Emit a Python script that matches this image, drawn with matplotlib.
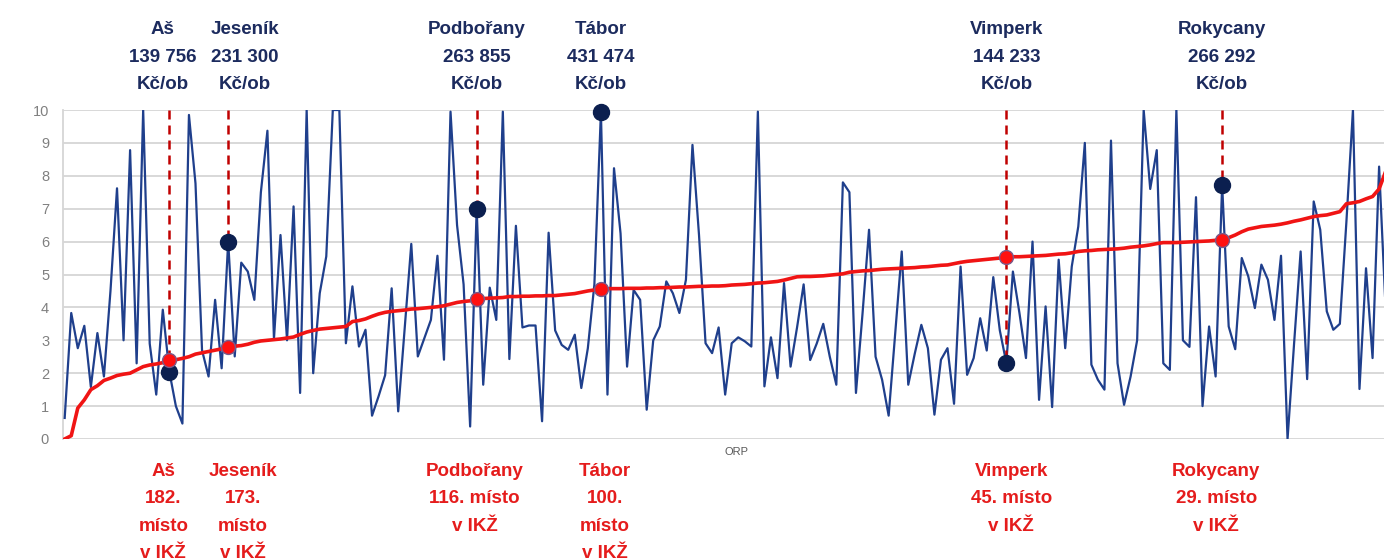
import numpy as np
import matplotlib
matplotlib.use("Agg")
import matplotlib.pyplot as plt

# Blue series: value per ORP (ordered along the x axis)
blue = [0.64, 3.83, 2.76, 3.44, 1.58, 3.22, 1.90, 4.50, 7.62, 3.00,
        8.78, 2.30, 10.0, 2.90, 1.35, 3.93, 2.05, 1.00, 0.47, 9.85,
        7.77, 2.70, 1.90, 4.23, 2.15, 6.00, 2.51, 5.36, 5.09, 4.23,
        7.50, 9.37, 3.04, 6.20, 3.00, 7.07, 1.40, 10.0, 2.00, 4.43,
        5.55, 10.0, 10.0, 2.91, 4.64, 2.81, 3.32, 0.71, 1.30, 1.94,
        4.58, 0.84, 3.40, 5.93, 2.51, 3.07, 3.62, 5.57, 2.41, 9.95,
        6.50, 4.70, 0.38, 7.00, 1.65, 4.60, 3.62, 9.95, 2.43, 6.48,
        3.39, 3.45, 3.45, 0.54, 6.27, 3.30, 2.86, 2.71, 3.17, 1.55,
        2.76, 4.70, 9.95, 1.35, 8.23, 6.25, 2.20, 4.53, 4.23, 0.89,
        3.00, 3.42, 4.79, 4.43, 3.83, 4.84, 8.94, 6.20, 2.91, 2.61,
        3.39, 1.35, 2.91, 3.09, 2.97, 2.81, 9.95, 1.60, 3.09, 1.85,
        4.74, 2.20, 3.40, 4.70, 2.40, 2.90, 3.50, 2.50, 1.65, 7.80,
        7.50, 1.40, 3.80, 6.36, 2.50, 1.80, 0.71, 3.20, 5.70, 1.65,
        2.60, 3.47, 2.76, 0.74, 2.41, 2.76, 1.07, 5.24, 1.95, 2.46,
        3.67, 2.69, 4.92, 3.30, 2.31, 5.09, 3.83, 2.46, 6.00, 1.19,
        4.03, 0.97, 5.45, 2.76, 5.24, 6.46, 9.00, 2.26, 1.80, 1.50,
        9.07, 2.30, 1.04, 1.90, 3.00, 10.0, 7.60, 8.78, 2.30, 2.10,
        10.0, 3.00, 2.80, 7.35, 1.00, 3.42, 1.90, 7.72, 3.42, 2.73,
        5.50, 4.94, 3.98, 5.30, 4.84, 3.62, 5.57, 0.00, 2.90, 5.70,
        1.82, 7.22, 6.36, 3.88, 3.32, 3.50, 6.60, 10.0, 1.52, 5.19,
        2.46, 8.28, 3.93]

# Red series: sorted IKZ values
red = [0.00, 0.10, 0.94, 1.19, 1.50, 1.62, 1.78, 1.85, 1.93, 1.97,
       2.00, 2.10, 2.20, 2.25, 2.28, 2.32, 2.40, 2.41, 2.45, 2.50,
       2.58, 2.62, 2.66, 2.70, 2.74, 2.80, 2.82, 2.84, 2.88, 2.94,
       2.98, 3.00, 3.02, 3.04, 3.07, 3.10, 3.18, 3.25, 3.30, 3.34,
       3.36, 3.38, 3.40, 3.42, 3.57, 3.60, 3.65, 3.73, 3.80, 3.85,
       3.88, 3.90, 3.92, 3.95, 3.96, 3.98, 4.00, 4.02, 4.05, 4.10,
       4.15, 4.18, 4.20, 4.26, 4.27, 4.28, 4.29, 4.30, 4.33, 4.33,
       4.34, 4.34, 4.35, 4.35, 4.36, 4.36, 4.38, 4.40, 4.42, 4.46,
       4.50, 4.53, 4.57, 4.57, 4.57, 4.57, 4.58, 4.58, 4.58, 4.59,
       4.59, 4.60, 4.60, 4.61, 4.62, 4.62, 4.63, 4.64, 4.64, 4.65,
       4.65, 4.66, 4.68, 4.69, 4.70, 4.72, 4.74, 4.75, 4.77, 4.79,
       4.83, 4.88, 4.93, 4.94, 4.94, 4.95, 4.96, 4.98, 5.00, 5.02,
       5.07, 5.09, 5.11, 5.12, 5.14, 5.16, 5.17, 5.18, 5.19, 5.20,
       5.21, 5.23, 5.24, 5.26, 5.28, 5.29, 5.33, 5.37, 5.40, 5.42,
       5.44, 5.46, 5.48, 5.50, 5.53, 5.54, 5.54, 5.55, 5.56, 5.57,
       5.58, 5.60, 5.62, 5.63, 5.66, 5.70, 5.72, 5.73, 5.75, 5.76,
       5.77, 5.78, 5.80, 5.83, 5.85, 5.87, 5.90, 5.94, 5.97, 5.97,
       5.97, 5.98, 5.99, 6.00, 6.01, 6.02, 6.04, 6.05, 6.12, 6.20,
       6.30, 6.38, 6.42, 6.46, 6.48, 6.50, 6.53, 6.57, 6.62, 6.66,
       6.71, 6.76, 6.79, 6.81, 6.86, 6.91, 7.15, 7.18, 7.22, 7.30,
       7.37, 7.60, 8.13]

# Highlighted towns
towns = ["Aš", "Jeseník", "Podbořany", "Tábor", "Vimperk", "Rokycany"]
town_idx = [16, 25, 63, 82, 144, 177]
town_cost = ["139 756", "231 300", "263 855", "431 474", "144 233", "266 292"]
town_rank = ["182.\nmísto", "173.\nmísto", "116. místo", "100.\nmísto",
             "45. místo", "29. místo"]
dashed = [True, True, True, False, True, True]

NAVY = "#1c2b5e"
BLUE = "#1f3f8c"
RED = "#f01414"
TXT_RED = "#e51c1c"
DASH_RED = "#c00000"

plt.rcParams['font.family'] = ['Liberation Sans', 'DejaVu Sans']

fig = plt.figure(figsize=(13.84, 5.6), dpi=100)
ax = fig.add_axes([63/1384, 121/560, 1321/1384, 329/560])
x = np.arange(len(blue))

ax.plot(x, blue, color=BLUE, lw=1.6, zorder=3)
ax.plot(x, red, color=RED, lw=2.6, zorder=4)

for i, d in zip(town_idx, dashed):
    if d:
        ax.plot([i, i], [10, blue[i]], color=DASH_RED, lw=1.8,
                dashes=(3.6, 2.4), zorder=5, clip_on=False)

bi = [blue[i] for i in town_idx]
ri = [red[i] for i in town_idx]
ax.plot(town_idx, bi, 'o', color="#0b1f4f", ms=11.5, zorder=6, clip_on=False)
ax.plot(town_idx, ri, 'o', color="#ff1010", mec="#7a5a8a", mew=1.0,
        ms=10, zorder=7, clip_on=False)

ax.set_xlim(-0.26, 201.75)
ax.set_ylim(0, 10)
ax.set_yticks(range(11))
ax.set_xticks([])
ax.grid(axis='y', color='#d6d6d6', lw=1.3, zorder=0)
ax.set_axisbelow(True)
for s in ['top', 'right', 'bottom']:
    ax.spines[s].set_visible(False)
ax.spines['left'].set_color('#d6d6d6')
ax.spines['left'].set_linewidth(1.3)
ax.tick_params(axis='y', length=0, pad=10, labelsize=10.5, labelcolor='#808080')
ax.text(0.51, -0.04, "ORP", transform=ax.transAxes, ha='center', va='center',
        fontsize=8, color='#595959')

# text offsets (pixels) so neighbouring labels do not collide
top_dx = [-7, 17, 0, 0, 0, 0]
bot_dx = [-6, 15, -2, 4, 5, -6]

for k, i in enumerate(town_idx):
    lines = [towns[k], town_cost[k], "Kč/ob"]
    for j, ln in enumerate(lines):
        ax.annotate(ln, xy=(i, 526 - 27.7 * j), xycoords=('data', 'figure pixels'),
                    xytext=(top_dx[k], 0), textcoords='offset pixels',
                    ha='center', va='baseline', fontsize=13.5,
                    fontweight='bold', color=NAVY, annotation_clip=False)
    lines = [towns[k]] + town_rank[k].split("\n") + ["v IKŽ"]
    for j, ln in enumerate(lines):
        ax.annotate(ln, xy=(i, 84 - 27.3 * j), xycoords=('data', 'figure pixels'),
                    xytext=(bot_dx[k], 0), textcoords='offset pixels',
                    ha='center', va='baseline', fontsize=13.5,
                    fontweight='bold', color=TXT_RED, annotation_clip=False)

fig.savefig("out.png", dpi=100)
